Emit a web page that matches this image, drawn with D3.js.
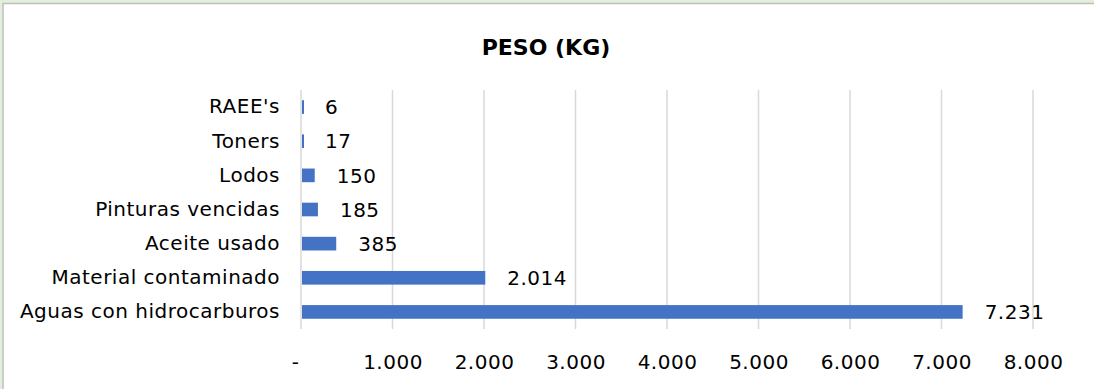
<!DOCTYPE html>
<html>
<head>
<meta charset="utf-8">
<script src="https://cdn.jsdelivr.net/npm/d3@7"></script>
<style>
  html, body { margin: 0; padding: 0; background: #e2efda; }
  svg { display: block; }
  text { font-family: "DejaVu Sans", sans-serif; fill: #000; }
</style>
</head>
<body>
<svg id="chart" width="1094" height="389"></svg>
<script>
// Residuos peligrosos por tipo, en kilogramos
const categories = ["RAEE's", "Toners", "Lodos", "Pinturas vencidas", "Aceite usado", "Material contaminado", "Aguas con hidrocarburos"];
const values = [6, 17, 150, 185, 385, 2014, 7231];
const tickValues = [0, 1000, 2000, 3000, 4000, 5000, 6000, 7000, 8000];
const title = "PESO (KG)";

const W = 1094, H = 389;
const svg = d3.select("#chart");

// chart panel: white area with a grey frame on top and left
svg.append("rect").attr("x", 3).attr("y", 3.5).attr("width", W).attr("height", H)
  .attr("fill", "#fff").attr("stroke", "#bfbfbf").attr("stroke-width", 1.5);

const x = d3.scaleLinear().domain([0, 8000]).range([301, 1033]);
const y = d3.scaleBand().domain(categories).range([90, 329]).paddingInner(0.6).paddingOuter(0.3);

// Spanish number format: "." as thousands separator, zero shown as "-"
const es = d3.formatLocale({ decimal: ",", thousands: ".", grouping: [3], currency: ["", " €"] });
const fmt = v => v === 0 ? "-" : es.format(",")(v);

const fontSize = 20, spacing = 0.5;

// vertical gridlines
svg.append("g").selectAll("line").data(tickValues).join("line")
  .attr("x1", d => x(d)).attr("x2", d => x(d))
  .attr("y1", 90).attr("y2", 329)
  .attr("stroke", "#d9d9d9").attr("stroke-width", 1.5);

// bars (very small values keep a sliver so they stay visible)
svg.append("g").selectAll("rect").data(values).join("rect")
  .attr("x", x(0) + 1)
  .attr("y", (d, i) => y(categories[i]))
  .attr("width", d => Math.max(2, x(d) - x(0) - 1))
  .attr("height", y.bandwidth())
  .attr("fill", "#4472c4");

// value labels
svg.append("g").selectAll("text").data(values).join("text")
  .attr("x", d => Math.max(x(0) + 2, x(d)) + 22)
  .attr("y", (d, i) => y(categories[i]) + y.bandwidth() / 2)
  .attr("dy", "0.36em")
  .attr("font-size", fontSize)
  .attr("letter-spacing", spacing)
  .text(d => fmt(d));

// category axis
const yAxis = d3.axisLeft(y).tickSize(0).tickPadding(21);
const gy = svg.append("g").attr("transform", `translate(${x(0)},0)`).call(yAxis);
gy.select(".domain").remove();
gy.selectAll("text").attr("font-size", fontSize).attr("letter-spacing", spacing)
  .attr("font-family", "DejaVu Sans, sans-serif").attr("fill", "#000");

// value axis
const xAxis = d3.axisBottom(x).tickValues(tickValues).tickFormat(fmt).tickSize(0).tickPadding(0);
const gx = svg.append("g").attr("transform", `translate(0,355)`).call(xAxis);
gx.select(".domain").remove();
gx.selectAll("text").attr("font-size", fontSize).attr("letter-spacing", spacing)
  .attr("font-family", "DejaVu Sans, sans-serif").attr("fill", "#000")
  .attr("dx", d => d === 0 ? -6 : 0);

// title
svg.append("text").attr("x", 546).attr("y", 55).attr("text-anchor", "middle")
  .attr("font-size", 22).attr("font-weight", "bold").text(title);
</script>
</body>
</html>
